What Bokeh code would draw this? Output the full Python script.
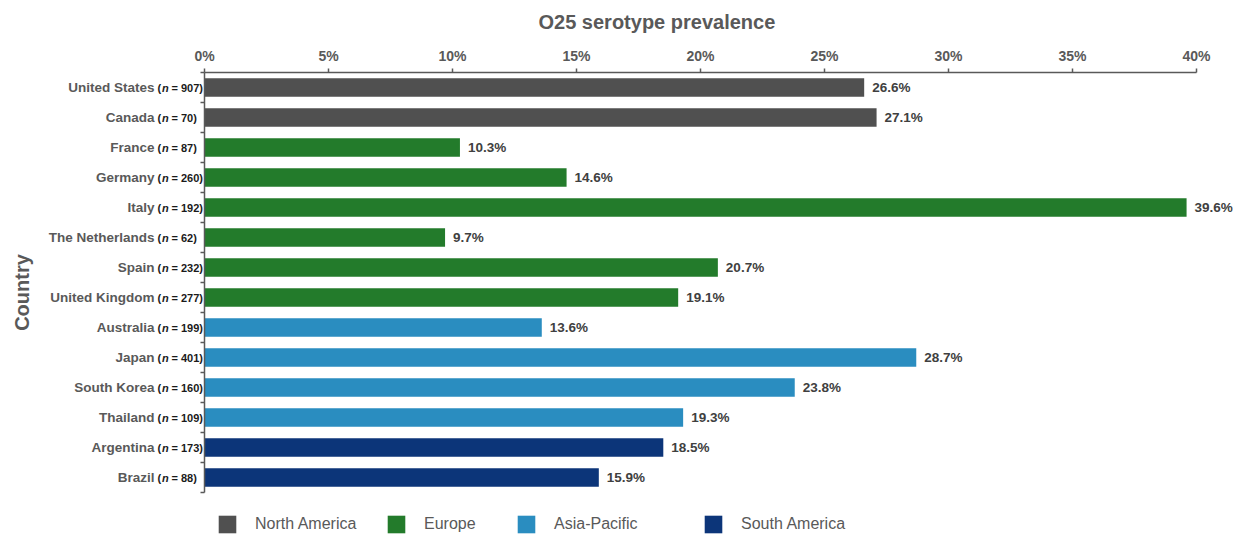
import math
from bokeh.plotting import figure
from bokeh.models import (ColumnDataSource, FactorRange, Range1d, LinearAxis, FixedTicker,
                          PrintfTickFormatter, Legend, LegendItem)
from bokeh.core.properties import value
from bokeh.embed import file_html
from bokeh.resources import INLINE

# ---------------- data ----------------
countries = ["United States", "Canada", "France", "Germany", "Italy", "The Netherlands",
             "Spain", "United Kingdom", "Australia", "Japan", "South Korea", "Thailand",
             "Argentina", "Brazil"]
sample_sizes = [907, 70, 87, 260, 192, 62, 232, 277, 199, 401, 160, 109, 173, 88]
prevalence = [26.6, 27.1, 10.3, 14.6, 39.6, 9.7, 20.7, 19.1, 13.6, 28.7, 23.8, 19.3, 18.5, 15.9]
regions = (["North America"] * 2 + ["Europe"] * 6 + ["Asia-Pacific"] * 4 + ["South America"] * 2)
region_names = ["North America", "Europe", "Asia-Pacific", "South America"]
region_colors = ["#505050", "#237b2b", "#2a8dc0", "#0c3579"]
x_ticks = [0, 5, 10, 15, 20, 25, 30, 35, 40]
title_text = "O25 serotype prevalence"
y_title = "Country"

FONT = "Liberation Sans"
GRAY = "#595959"
W, H = 1233, 534
X0_PX = 204            # pixel position of 0 %
PX_PER_UNIT = 24.8     # pixels per percent
n = len(countries)

p = figure(width=W, height=H, output_backend="svg", toolbar_location=None,
           x_range=Range1d(-X0_PX / PX_PER_UNIT, (W - X0_PX) / PX_PER_UNIT),
           y_range=FactorRange(factors=countries[::-1], range_padding=1.4,
                               range_padding_units="absolute"),
           x_axis_location="above", y_axis_location=None,
           min_border_left=0, min_border_right=0, min_border_top=30, min_border_bottom=0)
p.outline_line_color = None
p.xgrid.grid_line_color = None
p.ygrid.grid_line_color = None
p.background_fill_color = "white"
p.border_fill_color = "white"

# title
p.title.text = title_text
p.title.align = "left"
p.title.offset = 538
p.title.standoff = -4
p.title.text_font = FONT
p.title.text_font_size = "20px"
p.title.text_font_style = "bold"
p.title.text_color = GRAY

# x axis (top, fixed at top of bars)
xa = p.xaxis[0]
xa.fixed_location = n
xa.bounds = (x_ticks[0], x_ticks[-1])
xa.ticker = FixedTicker(ticks=x_ticks)
xa.formatter = PrintfTickFormatter(format="%d%%")
xa.major_label_text_font = FONT
xa.major_label_text_font_size = "14px"
xa.major_label_text_font_style = "bold"
xa.major_label_text_color = GRAY
xa.axis_line_color = GRAY
xa.axis_line_width = 1.5
xa.major_tick_line_color = GRAY
xa.major_tick_line_width = 1.5
xa.major_tick_out = 4
xa.major_tick_in = 0
xa.minor_tick_line_color = None
xa.major_label_standoff = 5

# y axis with ticks at category boundaries
ya = LinearAxis(ticker=FixedTicker(ticks=list(range(n + 1))), fixed_location=0, bounds=(0, n))
ya.major_label_text_color = None
ya.major_label_text_font_size = "1px"
ya.axis_line_color = GRAY
ya.axis_line_width = 1.5
ya.major_tick_line_color = GRAY
ya.major_tick_line_width = 1.5
ya.major_tick_out = 4
ya.major_tick_in = 0
ya.minor_tick_line_color = None
p.add_layout(ya, "left")

# bars per region
renderers = []
for name, color in zip(region_names, region_colors):
    idx = [i for i, r in enumerate(regions) if r == name]
    src = ColumnDataSource(dict(country=[countries[i] for i in idx],
                                value=[prevalence[i] for i in idx]))
    r = p.hbar(y="country", left=0, right="value", height=0.62, source=src,
               fill_color=color, line_color=None)
    renderers.append(r)

# labels
src_all = ColumnDataSource(dict(
    country=countries,
    value=prevalence,
    vlabel=[f"{v:.1f}%" for v in prevalence],
    paren=["("] * n,
    nn=["n"] * n,
    rest=[f"= {s})" for s in sample_sizes],
    zero=[0] * n,
))

p.text(x="value", y="country", text="vlabel", source=src_all, x_offset=8,
       text_baseline="middle", text_align="left", text_font=value(FONT),
       text_font_size="13.5px", text_font_style="bold", text_color="#404040")
p.text(x="zero", y="country", text="country", source=src_all, x_offset=-50,
       text_baseline="middle", text_align="right", text_font=value(FONT),
       text_font_size="13.5px", text_font_style="bold", text_color=GRAY)
p.text(x="zero", y="country", text="paren", source=src_all, x_offset=-47,
       text_baseline="middle", text_align="left", text_font=value(FONT),
       text_font_size="11px", text_font_style="bold", text_color="#1a1a1a")
p.text(x="zero", y="country", text="nn", source=src_all, x_offset=-42.5,
       text_baseline="middle", text_align="left", text_font=value(FONT),
       text_font_size="11px", text_font_style="bold italic", text_color="#1a1a1a")
p.text(x="zero", y="country", text="rest", source=src_all, x_offset=-33,
       text_baseline="middle", text_align="left", text_font=value(FONT),
       text_font_size="11px", text_font_style="bold", text_color="#1a1a1a")

# y title
p.text(x=[0], y=[n / 2], text=[y_title], x_offset=-183, y_offset=10, angle=math.pi / 2,
       text_align="center", text_baseline="middle", text_font=value(FONT),
       text_font_size="20px", text_font_style="bold", text_color=GRAY)

# legend (one per region to position precisely); bar legend glyphs are inset 10 %
legend_x = [218, 387, 517, 704]
for name, r, lx in zip(region_names, renderers, legend_x):
    lg = Legend(items=[LegendItem(label=name, renderers=[r])], location=(lx - 2, -1),
                orientation="horizontal", glyph_width=22, glyph_height=22,
                label_height=22, label_standoff=17, padding=0, margin=0,
                border_line_color=None, background_fill_alpha=0, label_text_font=FONT,
                label_text_font_size="16px", label_text_color=GRAY)
    p.add_layout(lg, "center")

open("out.html", "w").write(file_html(p, INLINE))
